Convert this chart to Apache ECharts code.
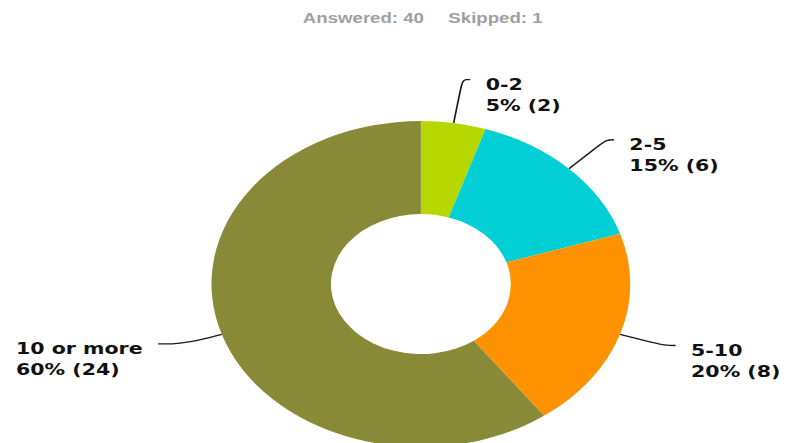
<!DOCTYPE html>
<html>
<head>
<meta charset="utf-8">
<script src="https://cdn.jsdelivr.net/npm/echarts@6/dist/echarts.min.js"></script>
<style>
  html, body { margin: 0; padding: 0; background: #fff; overflow: hidden; }
  #wrap { width: 794px; height: 443px; overflow: hidden; }
  #chart { width: 618px; height: 443px; transform: scaleX(1.2848); transform-origin: 0 0; }
</style>
</head>
<body>
<div id="wrap"><div id="chart"></div></div>
<script>
// ---- data ----
var categories = ['0-2', '2-5', '5-10', '10 or more'];
var counts = [2, 6, 8, 24];
var answered = 40;
var skipped = 1;
var sliceColors = ['#b6d800', '#00cfd6', '#ff9200', '#888a38'];

// ---- label line styling per slice (presentation only) ----
var lineLen = [44, 41, 36, 31];
var lineLen2 = [6, 6, 9, 20];

var seriesData = categories.map(function (name, i) {
  return {
    name: name,
    value: counts[i],
    itemStyle: { color: sliceColors[i] },
    labelLine: { length: lineLen[i], length2: lineLen2[i] }
  };
});

var labelFont = { fontFamily: 'DejaVu Sans', fontWeight: 'bold', fontSize: 16, lineHeight: 21, color: '#111111', align: 'left' };

var chart = echarts.init(document.getElementById('chart'), null, { renderer: 'svg' });
chart.setOption({
  animation: false,
  backgroundColor: '#ffffff',
  title: {
    text: '{a|Answered: ' + answered + '}{b|Skipped: ' + skipped + '}',
    left: 324,
    textAlign: 'center',
    top: 5,
    textStyle: {
      rich: {
        a: { fontFamily: 'Liberation Sans', fontWeight: 'bold', fontSize: 14.5, color: '#a0a0a0', lineHeight: 17 },
        b: { fontFamily: 'Liberation Sans', fontWeight: 'bold', fontSize: 14.5, color: '#a0a0a0', lineHeight: 17, padding: [0, 0, 0, 19] }
      }
    }
  },
  series: [{
    type: 'pie',
    center: [327.6, 284],
    radius: [70, 163],
    startAngle: 90,
    clockwise: true,
    avoidLabelOverlap: false,
    data: seriesData,
    label: {
      show: true,
      position: 'outside',
      alignTo: 'none',
      distanceToLabelLine: 12,
      fontFamily: 'DejaVu Sans',
      fontWeight: 'bold',
      fontSize: 16,
      lineHeight: 21,
      color: '#111111',
      formatter: function (p) {
        return '{s| }\n{t|' + p.name + '}\n{t|' + Math.round(p.percent) + '% (' + p.value + ')}';
      },
      rich: {
        s: { fontSize: 10, lineHeight: 30, align: 'left' },
        t: labelFont
      }
    },
    labelLine: {
      show: true,
      smooth: 0.4,
      lineStyle: { color: '#1a1a1a', width: 1.3 }
    },
    emphasis: { disabled: true }
  }]
});
</script>
</body>
</html>
